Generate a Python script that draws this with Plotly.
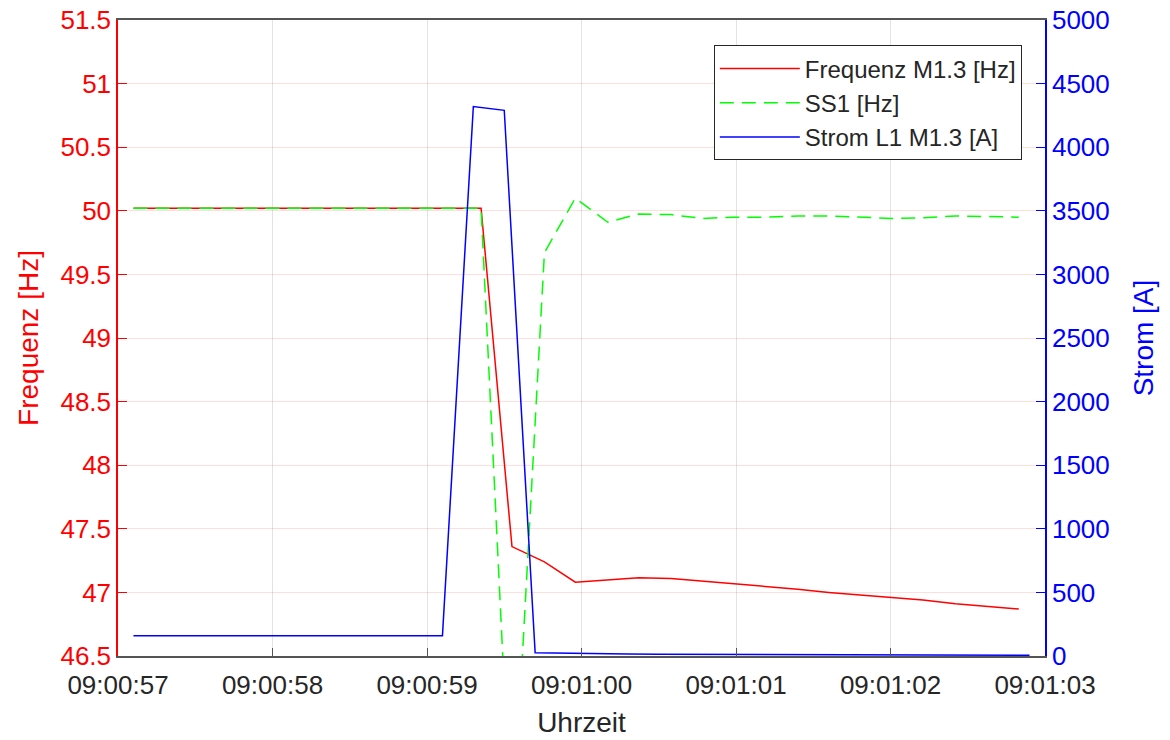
import pandas as pd
import plotly.graph_objects as go

BASE_TIME = "2023-05-12 09:00:57"

# seconds after 09:00:57
FREQ_OFFSETS = [
    0.10, 0.30, 0.51, 0.71, 0.92, 1.12, 1.33, 1.53, 1.74, 1.94,
    2.15, 2.35, 2.55, 2.76, 2.96, 3.17, 3.37, 3.58, 3.78, 3.99,
    4.19, 4.40, 4.60, 4.81, 5.01, 5.21, 5.42, 5.62, 5.83,
]
FREQ_M13 = [
    50.02, 50.02, 50.02, 50.02, 50.02, 50.02, 50.02, 50.02, 50.02, 50.02,
    50.02, 50.02, 47.36, 47.24, 47.08, 47.10, 47.115, 47.11, 47.09, 47.07,
    47.045, 47.025, 47.00, 46.98, 46.96, 46.94, 46.91, 46.89, 46.87,
]
FREQ_SS1 = [
    50.02, 50.02, 50.02, 50.02, 50.02, 50.02, 50.02, 50.02, 50.02, 50.02,
    50.02, 50.02, 45.00, 49.67, 50.10, 49.91, 49.975, 49.97, 49.94, 49.95,
    49.95, 49.96, 49.96, 49.95, 49.94, 49.945, 49.96, 49.955, 49.95,
]

CURRENT_OFFSETS = [
    0.1, 0.3, 0.5, 0.7, 0.9, 1.1, 1.3, 1.5, 1.7, 1.9,
    2.1, 2.3, 2.5, 2.7, 2.9, 3.1, 3.3, 3.5, 3.7, 3.9,
    4.1, 4.3, 4.5, 4.7, 4.9, 5.1, 5.3, 5.5, 5.7, 5.9,
]
CURRENT_L1 = [
    160, 160, 160, 160, 160, 160, 160, 160, 160, 160,
    160, 4320, 4290, 25, 20, 17, 15, 13, 12, 11,
    10, 9, 9, 8, 8, 7, 7, 7, 6, 6,
]

FONT = "Liberation Sans, Arial, sans-serif"
RED = "#ff0000"
GREEN = "#00ff00"
BLUE = "#0000ff"
DARK = "#262626"

base = pd.Timestamp(BASE_TIME)
t_freq = base + pd.to_timedelta(FREQ_OFFSETS, unit="s")
t_curr = base + pd.to_timedelta(CURRENT_OFFSETS, unit="s")

fig = go.Figure()
fig.add_trace(
    go.Scatter(
        x=t_freq, y=FREQ_M13, mode="lines", name="Frequenz M1.3 [Hz]",
        line=dict(color=RED, width=1.5),
    )
)
fig.add_trace(
    go.Scatter(
        x=t_freq, y=FREQ_SS1, mode="lines", name="SS1 [Hz]",
        line=dict(color=GREEN, width=1.5, dash="14px,8px"),
    )
)
fig.add_trace(
    go.Scatter(
        x=t_curr, y=CURRENT_L1, mode="lines", name="Strom L1 M1.3 [A]",
        line=dict(color=BLUE, width=1.5), yaxis="y2",
    )
)

# page body adds an 8px margin, so the figure is sized to fit inside the window
fig.update_layout(
    width=1162,
    height=732,
    paper_bgcolor="white",
    plot_bgcolor="white",
    font=dict(family=FONT, size=24, color=DARK),
    margin=dict(l=110, r=125, t=12, b=84),
    showlegend=True,
    legend=dict(
        x=0.975, xanchor="right", y=0.96, yanchor="top",
        bgcolor="white", bordercolor=DARK, borderwidth=1,
        font=dict(size=24, color=DARK),
        itemwidth=80,
    ),
    xaxis=dict(
        type="date",
        range=[base, base + pd.Timedelta(seconds=6)],
        dtick=1000,
        tickformat="%H:%M:%S",
        showgrid=True, gridcolor="#e3e3e3", gridwidth=1,
        showline=True, linecolor="#555555", linewidth=1.5, mirror=True,
        ticks="inside", ticklen=8, tickcolor="#555555",
        tickfont=dict(size=26, color=DARK),
        ticklabelstandoff=5,
        ticklabeloverflow="allow",
        title=dict(text="Uhrzeit", font=dict(size=28, color=DARK), standoff=13),
        zeroline=False,
        automargin=False,
    ),
    yaxis=dict(
        range=[46.5, 51.5], dtick=0.5,
        showgrid=True, gridcolor="rgba(255,0,0,0.13)", gridwidth=1,
        showline=True, linecolor=RED, linewidth=1.5,
        ticks="inside", ticklen=9, tickcolor=RED,
        tickfont=dict(size=26, color=RED),
        ticklabeloverflow="allow",
        title=dict(text="Frequenz [Hz]", font=dict(size=28, color=RED), standoff=14),
        zeroline=False,
        automargin=False,
    ),
    yaxis2=dict(
        range=[0, 5000], dtick=500,
        overlaying="y", side="right", anchor="x",
        showgrid=False,
        showline=True, linecolor=BLUE, linewidth=1.5,
        ticks="inside", ticklen=9, tickcolor=BLUE,
        tickfont=dict(size=26, color=BLUE),
        ticklabeloverflow="allow",
        title=dict(text="Strom [A]", font=dict(size=28, color=BLUE), standoff=25),
        zeroline=False,
        automargin=False,
    ),
)

fig.write_html("out.html")
